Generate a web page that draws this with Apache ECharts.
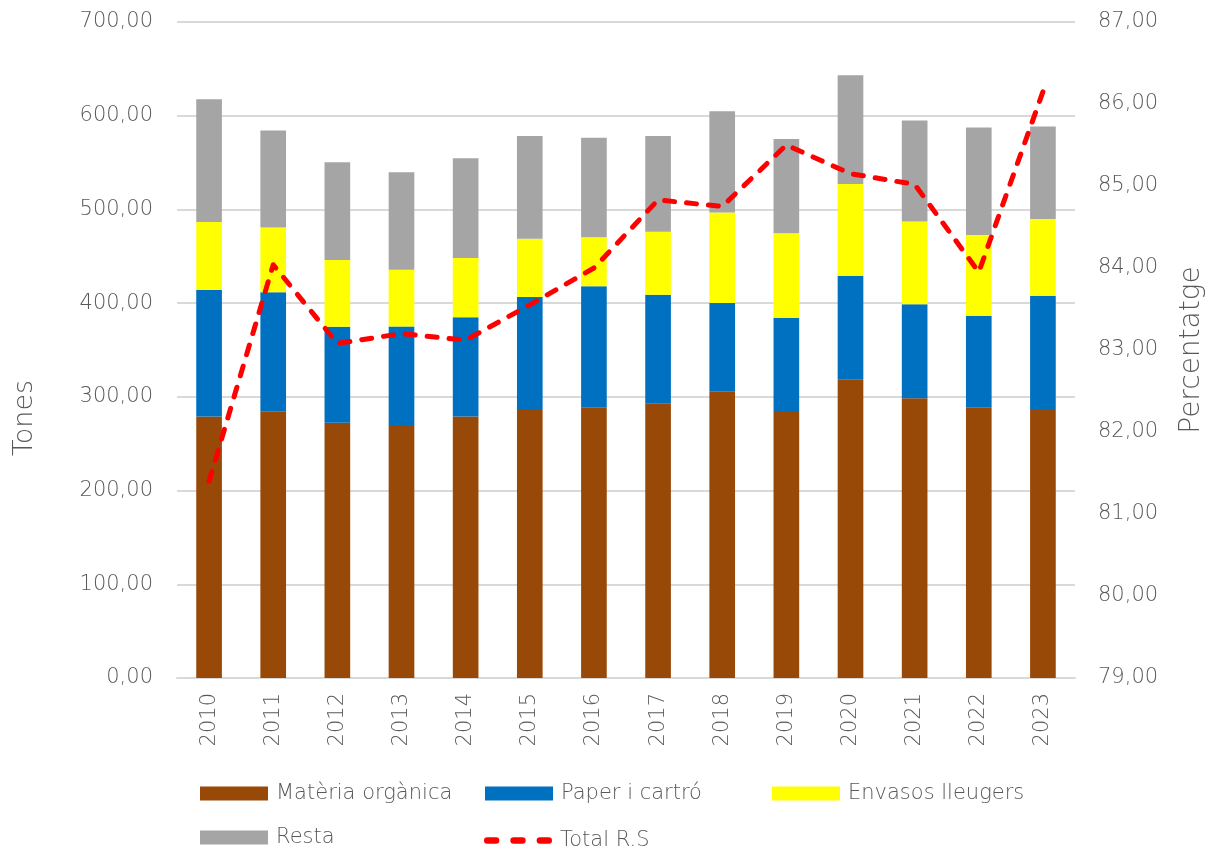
<!DOCTYPE html>
<html>
<head>
<meta charset="utf-8">
<style>
html, body { margin: 0; padding: 0; background: #fff; }
#chart { width: 1215px; height: 847px; }
</style>
<script src="https://cdn.jsdelivr.net/npm/echarts@6/dist/echarts.min.js"></script>
</head>
<body>
<div id="chart"></div>
<script>
// dades llegides del gràfic
var years = ['2010', '2011', '2012', '2013', '2014', '2015', '2016', '2017', '2018', '2019', '2020', '2021', '2022', '2023'];
var materiaOrganica = [279.0, 284.0, 272.5, 269.0, 279.0, 286.0, 289.0, 293.2, 305.5, 284.9, 318.8, 298.5, 288.9, 287.1];
var paperCartro = [135.0, 127.7, 102.4, 106.0, 106.0, 120.6, 129.0, 115.8, 94.7, 99.6, 110.5, 100.3, 97.7, 120.9];
var envasos = [72.6, 69.0, 71.1, 60.5, 63.3, 62.2, 52.3, 67.3, 96.4, 90.0, 97.9, 88.2, 86.2, 81.9];
var resta = [131.0, 103.4, 104.3, 104.3, 106.4, 109.6, 106.3, 102.1, 108.2, 100.7, 116.0, 107.8, 114.5, 98.5];
var totalRS = [81.40, 84.04, 83.08, 83.20, 83.12, 83.55, 84.00, 84.83, 84.75, 85.50, 85.15, 85.02, 83.95, 86.15];

var FONT = 'DejaVu Sans';
var TXT = '#595959';
var WEIGHT = 200;

function fmt(v) {
    return v.toFixed(2).replace('.', ',');
}

var chart = echarts.init(document.getElementById('chart'));

// tres traços arrodonits per a la icona de la línia
var dashIcon = 'path://M3,0h8a3,3 0 0 1 0,6h-8a3,3 0 0 1 0,-6z' +
    'M27,0h8a3,3 0 0 1 0,6h-8a3,3 0 0 1 0,-6z' +
    'M51,0h8a3,3 0 0 1 0,6h-8a3,3 0 0 1 0,-6z';

function legendAt(name, left, top, icon, h) {
    return {
        data: [{ name: name, icon: icon || 'rect' }],
        left: left,
        top: top,
        padding: 0,
        itemWidth: 68,
        itemHeight: h || 14,
        itemGap: 0,
        textStyle: { color: TXT, fontSize: 21, fontFamily: FONT, fontWeight: WEIGHT, padding: [0, 0, 0, 3] }
    };
}

var option = {
    animation: false,
    grid: { left: 177, right: 140, top: 22, bottom: 169 },
    legend: [
        legendAt('Matèria orgànica', 200, 783),
        legendAt('Paper i cartró', 485, 783),
        legendAt('Envasos lleugers', 772, 783),
        legendAt('Resta', 200, 827),
        legendAt('Total R.S', 484, 830, dashIcon, 7)
    ],
    graphic: [
        {
            type: 'text', x: 11, y: 418, rotation: Math.PI / 2,
            style: { text: 'Tones', fill: TXT, font: WEIGHT + ' 27px "' + FONT + '"', align: 'center', verticalAlign: 'top' }
        },
        {
            type: 'text', x: 1178, y: 350, rotation: Math.PI / 2,
            style: { text: 'Percentatge', fill: TXT, font: WEIGHT + ' 28px "' + FONT + '"', align: 'center', verticalAlign: 'top' }
        }
    ],
    xAxis: {
        type: 'category',
        data: years,
        axisLine: { lineStyle: { color: '#D9D9D9', width: 2 } },
        axisTick: { show: false },
        axisLabel: { rotate: 90, margin: 15, color: TXT, fontSize: 21, fontFamily: FONT, fontWeight: WEIGHT }
    },
    yAxis: [
        {
            type: 'value',
            min: 0, max: 700, interval: 100,
            axisLine: { show: false },
            axisTick: { show: false },
            splitLine: { lineStyle: { color: '#D9D9D9', width: 2 } },
            axisLabel: { margin: 24, color: TXT, fontSize: 21, fontFamily: FONT, fontWeight: WEIGHT, formatter: fmt }
        },
        {
            type: 'value',
            min: 79, max: 87, interval: 1,
            axisLine: { show: false },
            axisTick: { show: false },
            splitLine: { show: false },
            axisLabel: { margin: 23, color: TXT, fontSize: 21, fontFamily: FONT, fontWeight: WEIGHT, formatter: fmt }
        }
    ],
    series: [
        {
            name: 'Matèria orgànica', type: 'bar', stack: 'rs', data: materiaOrganica,
            barWidth: '40%', itemStyle: { color: '#984807' }
        },
        {
            name: 'Paper i cartró', type: 'bar', stack: 'rs', data: paperCartro,
            itemStyle: { color: '#0070C0' }
        },
        {
            name: 'Envasos lleugers', type: 'bar', stack: 'rs', data: envasos,
            itemStyle: { color: '#FFFF00' }
        },
        {
            name: 'Resta', type: 'bar', stack: 'rs', data: resta,
            itemStyle: { color: '#A5A5A5' }
        },
        {
            name: 'Total R.S', type: 'line', yAxisIndex: 1, data: totalRS,
            symbol: 'none', z: 5,
            itemStyle: { color: '#FF0000' },
            lineStyle: { color: '#FF0000', width: 5, type: [10, 12], cap: 'round', join: 'round' }
        }
    ]
};

chart.setOption(option);
</script>
</body>
</html>
